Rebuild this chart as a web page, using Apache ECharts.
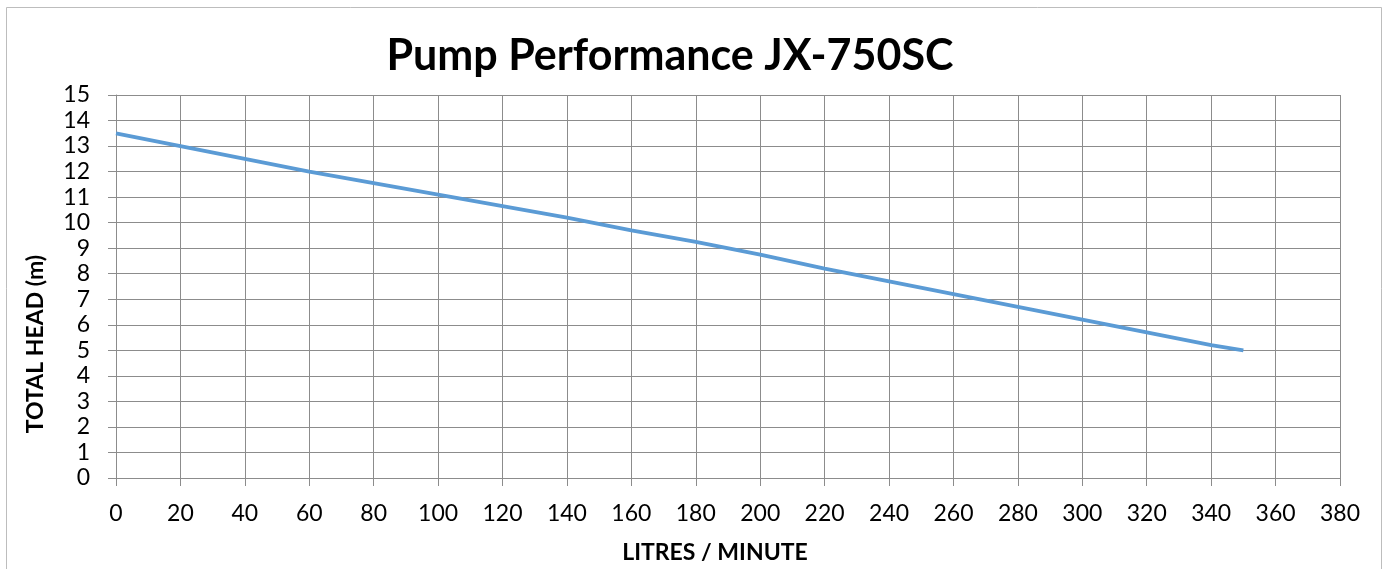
<!DOCTYPE html>
<html>
<head>
<meta charset="utf-8">
<script src="https://cdn.jsdelivr.net/npm/echarts@6/dist/echarts.min.js"></script>
<style>html,body{margin:0;padding:0;background:#fff;overflow:hidden}#c{width:1389px;height:569px}</style>
</head>
<body>
<div id="c"></div>
<script>
const titleText = "Pump Performance JX-750SC";
const xName = "LITRES / MINUTE";
const yName = "TOTAL HEAD (m)";
const flow = [0, 20, 40, 60, 80, 100, 120, 140, 160, 180, 200, 220, 240, 260, 280, 300, 320, 340, 350];
const head = [13.5, 13.0, 12.5, 12.0, 11.55, 11.1, 10.65, 10.2, 9.7, 9.25, 8.75, 8.2, 7.7, 7.2, 6.7, 6.2, 5.7, 5.2, 5.0];

const chart = echarts.init(document.getElementById('c'));
const gridColor = '#8c8c8c';
const font = 'Lato, "Open Sans", sans-serif';
chart.setOption({
  animation: false,
  backgroundColor: '#fff',
  graphic: [{
    type: 'rect', shape: {x: 6.5, y: 7.5, width: 1375, height: 700},
    style: {fill: 'none', stroke: '#bdbdbd', lineWidth: 1}, silent: true, z: -1
  }, {
    type: 'text', x: 36, y: 344, rotation: Math.PI / 2,
    style: {text: yName, fontFamily: font, fontWeight: 'bold', fontSize: 23, fill: '#000',
            align: 'center', verticalAlign: 'middle'}
  }],
  title: {
    text: titleText, left: 665, top: 30, textAlign: 'center',
    textStyle: {fontFamily: font, fontWeight: 'bold', fontSize: 43, color: '#000'}
  },
  grid: {left: 116, right: 49, top: 95, bottom: 82, containLabel: false},
  xAxis: {
    type: 'value', min: 0, max: 380, interval: 20,
    name: xName, nameLocation: 'middle', nameGap: 63,
    nameTextStyle: {fontFamily: font, fontWeight: 'bold', fontSize: 23, color: '#000', padding: [0, 26, 0, 0]},
    axisLine: {show: true, lineStyle: {color: gridColor, width: 1}},
    axisTick: {show: true, length: 8, lineStyle: {color: gridColor}},
    axisLabel: {fontFamily: font, fontSize: 23, color: '#000', margin: 24},
    splitLine: {show: true, lineStyle: {color: gridColor, width: 1}}
  },
  yAxis: {
    type: 'value', min: 0, max: 15, interval: 1,
    axisLine: {show: true, lineStyle: {color: gridColor, width: 1}},
    axisTick: {show: true, length: 8, lineStyle: {color: gridColor}},
    axisLabel: {fontFamily: font, fontSize: 23, color: '#000', margin: 26},
    splitLine: {show: true, lineStyle: {color: gridColor, width: 1}}
  },
  series: [{
    type: 'line',
    data: flow.map((x, i) => [x, head[i]]),
    showSymbol: false, smooth: false,
    lineStyle: {color: '#5b9bd5', width: 3.8}
  }]
});
</script>
</body>
</html>
